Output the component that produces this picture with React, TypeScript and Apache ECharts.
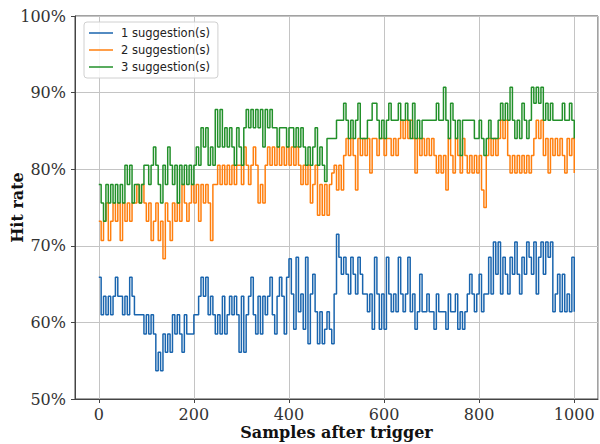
import React, { useEffect, useRef } from "react";
import * as echarts from "echarts";

// samples are taken every STEP samples after the trigger (0..1000)
const STEP = 5;
const seriesNames = ["1 suggestion(s)", "2 suggestion(s)", "3 suggestion(s)"];
const seriesColors = ["#1a65ae", "#ff7f0e", "#22902a"];
const yTicks = [50, 60, 70, 80, 90, 100];
const xTicks = [0, 200, 400, 600, 800, 1000];

// Hit rate (%) — 1 suggestion
const oneSuggestion = [
  65.9, 61.0, 63.4, 61.0, 63.4, 61.0, 63.4, 65.9, 63.4, 63.4,
  61.0, 63.4, 61.0, 65.9, 63.4, 61.0, 61.0, 61.0, 61.0, 58.5,
  61.0, 58.5, 61.0, 58.5, 53.7, 56.1, 53.7, 58.5, 56.1, 58.5,
  56.1, 61.0, 58.5, 61.0, 58.5, 56.1, 61.0, 58.5, 58.5, 58.5,
  61.0, 61.0, 63.4, 65.9, 63.4, 65.9, 61.0, 63.4, 61.0, 58.5,
  61.0, 58.5, 63.4, 58.5, 61.0, 63.4, 61.0, 63.4, 61.0, 56.1,
  63.4, 56.1, 61.0, 63.4, 65.9, 61.0, 58.5, 63.4, 58.5, 63.4,
  61.0, 63.4, 65.9, 61.0, 58.5, 63.4, 65.9, 63.4, 58.5, 65.9,
  68.3, 63.7, 59.1, 68.5, 61.4, 63.7, 59.1, 68.5, 57.2, 63.7,
  66.3, 61.4, 57.2, 61.4, 57.2, 59.1, 61.4, 59.1, 57.2, 63.7,
  71.5, 68.5, 66.3, 68.5, 66.3, 63.7, 68.5, 66.3, 63.7, 68.5,
  66.3, 63.7, 63.7, 61.4, 63.7, 59.1, 68.5, 63.7, 59.1, 63.7,
  59.1, 68.5, 63.7, 61.4, 63.7, 61.4, 68.5, 63.7, 61.4, 63.7,
  68.5, 61.4, 63.7, 59.1, 61.4, 66.3, 61.4, 61.4, 63.7, 61.4,
  61.4, 59.1, 63.7, 61.4, 61.4, 61.4, 59.1, 63.7, 61.4, 61.4,
  63.7, 59.1, 61.4, 59.1, 61.4, 63.7, 66.3, 63.7, 61.4, 63.7,
  66.3, 61.4, 63.7, 63.7, 68.5, 63.7, 70.5, 66.3, 70.5, 63.7,
  68.5, 66.3, 63.7, 68.5, 66.3, 70.5, 66.3, 63.7, 68.5, 66.3,
  70.5, 68.5, 66.3, 70.5, 63.7, 68.5, 70.5, 66.3, 70.5, 68.5,
  70.5, 61.4, 63.7, 66.3, 61.4, 66.3, 61.4, 63.7, 61.4, 68.5,
  61.4,
];

// Hit rate (%) — 2 suggestions
const twoSuggestions = [
  73.2, 70.7, 73.2, 75.6, 70.7, 73.2, 75.6, 73.2, 75.6, 70.7,
  75.6, 73.2, 75.6, 73.2, 75.6, 75.6, 78.0, 75.6, 78.0, 75.6,
  73.2, 75.6, 70.7, 73.2, 75.6, 70.7, 73.2, 68.3, 75.6, 73.2,
  70.7, 75.6, 73.2, 75.6, 73.2, 78.0, 75.6, 73.2, 75.6, 78.0,
  75.6, 78.0, 73.2, 78.0, 75.6, 78.0, 75.6, 70.7, 78.0, 78.0,
  80.5, 78.0, 80.5, 78.0, 80.5, 78.0, 80.5, 78.0, 80.5, 80.5,
  78.0, 82.9, 80.5, 78.0, 80.5, 82.9, 80.5, 75.6, 78.0, 75.6,
  80.5, 82.9, 80.5, 82.9, 80.5, 82.9, 80.5, 82.9, 80.5, 82.9,
  80.5, 82.9, 80.5, 82.9, 80.5, 78.0, 80.5, 78.0, 80.5, 75.6,
  78.0, 80.5, 74.0, 78.0, 74.0, 78.0, 74.0, 78.0, 79.5, 80.5,
  77.3, 80.5, 77.3, 81.8, 84.0, 81.8, 84.0, 81.8, 77.3, 84.0,
  81.8, 84.0, 81.8, 84.0, 79.5, 84.0, 84.0, 81.8, 84.0, 84.0,
  81.8, 84.0, 84.0, 81.8, 84.0, 81.8, 84.0, 86.4, 84.0, 86.4,
  84.0, 86.4, 84.0, 79.5, 84.0, 81.8, 84.0, 81.8, 84.0, 81.8,
  84.0, 81.8, 79.5, 81.8, 79.5, 81.8, 77.3, 84.0, 81.8, 79.5,
  84.0, 81.8, 79.5, 84.0, 81.8, 79.5, 81.8, 79.5, 81.8, 79.5,
  81.8, 77.3, 75.0, 81.8, 84.0, 81.8, 84.0, 81.8, 84.0, 86.4,
  84.0, 86.4, 81.8, 79.5, 81.8, 79.5, 81.8, 79.5, 81.8, 79.5,
  81.8, 79.5, 81.8, 84.0, 86.4, 84.0, 86.4, 81.8, 84.0, 79.5,
  84.0, 81.8, 84.0, 81.8, 84.0, 81.8, 79.5, 84.0, 81.8, 84.0,
  79.5,
];

// Hit rate (%) — 3 suggestions
const threeSuggestions = [
  78.0, 75.6, 73.2, 78.0, 75.6, 78.0, 75.6, 78.0, 75.6, 78.0,
  75.6, 80.5, 78.0, 80.5, 75.6, 78.0, 78.0, 75.6, 78.0, 80.5,
  80.5, 78.0, 80.5, 82.9, 80.5, 78.0, 75.6, 80.5, 78.0, 82.9,
  80.5, 78.0, 80.5, 75.6, 80.5, 78.0, 80.5, 78.0, 80.5, 78.0,
  80.5, 82.9, 80.5, 85.4, 82.9, 85.4, 80.5, 82.9, 80.5, 87.8,
  82.9, 87.8, 82.9, 85.4, 82.9, 85.4, 82.9, 80.5, 85.4, 82.9,
  80.5, 85.4, 87.8, 85.4, 87.8, 85.4, 87.8, 85.4, 87.8, 82.9,
  87.8, 85.4, 87.8, 85.4, 85.4, 82.9, 85.4, 85.4, 85.4, 82.9,
  85.4, 85.4, 82.9, 85.4, 82.9, 85.4, 82.9, 80.5, 82.9, 80.5,
  82.9, 85.4, 80.5, 82.9, 80.5, 78.4, 84.0, 84.0, 84.0, 84.0,
  86.4, 86.4, 86.4, 88.6, 86.4, 84.0, 86.4, 84.0, 86.4, 88.6,
  84.0, 84.0, 84.0, 86.4, 86.4, 88.6, 88.6, 86.4, 84.0, 86.4,
  84.0, 86.4, 88.6, 86.4, 86.4, 86.4, 88.6, 86.4, 86.4, 88.6,
  86.4, 84.0, 88.6, 84.0, 86.4, 84.0, 86.4, 86.4, 86.4, 86.4,
  86.4, 86.4, 88.6, 86.4, 86.4, 90.7, 86.4, 84.0, 88.6, 86.4,
  84.0, 86.4, 81.8, 86.4, 86.4, 86.4, 86.4, 86.4, 84.0, 84.0,
  86.4, 84.0, 81.8, 84.0, 86.4, 84.0, 84.0, 84.0, 86.4, 88.6,
  86.4, 88.6, 86.4, 90.7, 86.4, 84.0, 86.4, 84.0, 88.6, 86.4,
  84.0, 86.4, 90.7, 88.6, 90.7, 88.6, 90.7, 86.4, 88.6, 86.4,
  88.6, 86.4, 86.4, 86.4, 86.4, 88.6, 86.4, 86.4, 88.6, 86.4,
  84.0,
];

const allSeries = [oneSuggestion, twoSuggestions, threeSuggestions];

export default function App() {
  const ref = useRef<HTMLDivElement>(null);

  useEffect(() => {
    if (!ref.current) return;
    const chart = echarts.init(ref.current, null, { renderer: "svg" });
    const toPairs = (vals: number[]) => vals.map((v, i) => [i * STEP, v]);

    chart.setOption({
      animation: false,
      backgroundColor: "#ffffff",
      grid: {
        left: 75,
        right: 2,
        top: 16,
        bottom: 45,
        outerBoundsMode: "none",
        containLabel: false,
        show: true,
        borderColor: "#444",
        borderWidth: 1,
        backgroundColor: "transparent",
      },
      legend: {
        orient: "vertical",
        left: 84,
        top: 22,
        icon: "rect",
        itemWidth: 24,
        itemHeight: 1.5,
        itemGap: 5,
        padding: [5, 8, 5, 5],
        backgroundColor: "rgba(255,255,255,0.85)",
        borderColor: "#d0d0d0",
        borderWidth: 1,
        borderRadius: 3,
        data: seriesNames,
        textStyle: {
          fontFamily: "DejaVu Sans",
          fontSize: 11.5,
          color: "#222",
          padding: [0, 0, 0, 3],
        },
      },
      xAxis: {
        type: "value",
        min: -50,
        max: 1050,
        name: "Samples after trigger",
        nameLocation: "middle",
        nameGap: 25,
        nameMoveOverlap: false,
        nameTextStyle: {
          fontFamily: "DejaVu Serif",
          fontWeight: "bold",
          fontSize: 16,
          color: "#111",
        },
        axisLine: { show: true, onZero: false, lineStyle: { color: "#444", width: 1 } },
        axisTick: { show: true, length: 4, lineStyle: { color: "#444" } },
        axisLabel: {
          margin: 7,
          fontFamily: "DejaVu Serif",
          fontSize: 16,
          color: "#333",
          showMinLabel: false,
          showMaxLabel: false,
          formatter: (v: number) => (xTicks.includes(v) ? String(v) : ""),
        },
        splitLine: { show: true, lineStyle: { color: "#c4c4c4", width: 1 } },
      },
      yAxis: {
        type: "value",
        min: yTicks[0],
        max: yTicks[yTicks.length - 1],
        interval: 10,
        name: "Hit rate",
        nameLocation: "middle",
        nameGap: 50,
        nameMoveOverlap: false,
        nameTextStyle: {
          fontFamily: "DejaVu Serif",
          fontWeight: "bold",
          fontSize: 16,
          color: "#111",
        },
        axisLine: { show: true, onZero: false, lineStyle: { color: "#444", width: 1 } },
        axisTick: { show: true, length: 4, lineStyle: { color: "#444" } },
        axisLabel: {
          margin: 9,
          fontFamily: "DejaVu Serif",
          fontSize: 16,
          color: "#333",
          formatter: (v: number) => `${v}%`,
        },
        splitLine: { show: true, lineStyle: { color: "#c4c4c4", width: 1 } },
      },
      series: allSeries.map((vals, k) => ({
        name: seriesNames[k],
        type: "line",
        step: "end",
        symbol: "none",
        data: toPairs(vals),
        color: seriesColors[k],
        lineStyle: { width: 1.5, color: seriesColors[k] },
      })),
    });

    return () => chart.dispose();
  }, []);

  return (
    <div
      ref={ref}
      style={{ position: "fixed", left: 0, top: 0, width: 600, height: 444 }}
    />
  );
}
